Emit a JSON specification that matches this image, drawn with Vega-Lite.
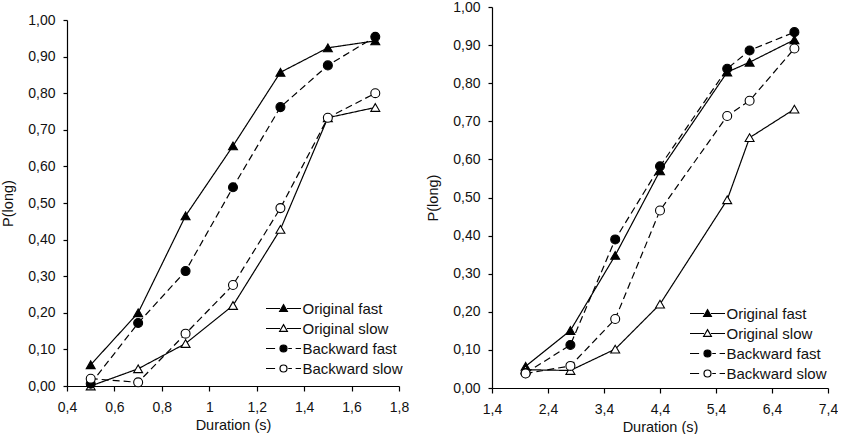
{
  "$schema": "https://vega.github.io/schema/vega-lite/v6.json",
  "description": "P(long) against stimulus duration for original and backward, fast and slow conditions, two experiments.",
  "padding": {"left": 0, "top": 0, "right": 0, "bottom": 0},
  "background": "white",
  "spacing": 16,
  "datasets": {
    "exp1": [
      {"duration": 0.5, "p": 0.058, "condition": "Original fast"},
      {"duration": 0.7, "p": 0.200, "condition": "Original fast"},
      {"duration": 0.9, "p": 0.465, "condition": "Original fast"},
      {"duration": 1.1, "p": 0.656, "condition": "Original fast"},
      {"duration": 1.3, "p": 0.857, "condition": "Original fast"},
      {"duration": 1.5, "p": 0.924, "condition": "Original fast"},
      {"duration": 1.7, "p": 0.943, "condition": "Original fast"},
      {"duration": 0.5, "p": 0.000, "condition": "Original slow"},
      {"duration": 0.7, "p": 0.047, "condition": "Original slow"},
      {"duration": 0.9, "p": 0.116, "condition": "Original slow"},
      {"duration": 1.1, "p": 0.220, "condition": "Original slow"},
      {"duration": 1.3, "p": 0.428, "condition": "Original slow"},
      {"duration": 1.5, "p": 0.733, "condition": "Original slow"},
      {"duration": 1.7, "p": 0.761, "condition": "Original slow"},
      {"duration": 0.5, "p": 0.006, "condition": "Backward fast"},
      {"duration": 0.7, "p": 0.172, "condition": "Backward fast"},
      {"duration": 0.9, "p": 0.314, "condition": "Backward fast"},
      {"duration": 1.1, "p": 0.543, "condition": "Backward fast"},
      {"duration": 1.3, "p": 0.762, "condition": "Backward fast"},
      {"duration": 1.5, "p": 0.876, "condition": "Backward fast"},
      {"duration": 1.7, "p": 0.954, "condition": "Backward fast"},
      {"duration": 0.5, "p": 0.020, "condition": "Backward slow"},
      {"duration": 0.7, "p": 0.010, "condition": "Backward slow"},
      {"duration": 0.9, "p": 0.143, "condition": "Backward slow"},
      {"duration": 1.1, "p": 0.276, "condition": "Backward slow"},
      {"duration": 1.3, "p": 0.486, "condition": "Backward slow"},
      {"duration": 1.5, "p": 0.733, "condition": "Backward slow"},
      {"duration": 1.7, "p": 0.800, "condition": "Backward slow"}
    ],
    "exp2": [
      {"duration": 2.0, "p": 0.057, "condition": "Original fast"},
      {"duration": 2.8, "p": 0.151, "condition": "Original fast"},
      {"duration": 3.6, "p": 0.348, "condition": "Original fast"},
      {"duration": 4.4, "p": 0.570, "condition": "Original fast"},
      {"duration": 5.6, "p": 0.829, "condition": "Original fast"},
      {"duration": 6.0, "p": 0.855, "condition": "Original fast"},
      {"duration": 6.8, "p": 0.914, "condition": "Original fast"},
      {"duration": 2.0, "p": 0.048, "condition": "Original slow"},
      {"duration": 2.8, "p": 0.046, "condition": "Original slow"},
      {"duration": 3.6, "p": 0.102, "condition": "Original slow"},
      {"duration": 4.4, "p": 0.220, "condition": "Original slow"},
      {"duration": 5.6, "p": 0.494, "condition": "Original slow"},
      {"duration": 6.0, "p": 0.657, "condition": "Original slow"},
      {"duration": 6.8, "p": 0.732, "condition": "Original slow"},
      {"duration": 2.0, "p": 0.039, "condition": "Backward fast"},
      {"duration": 2.8, "p": 0.113, "condition": "Backward fast"},
      {"duration": 3.6, "p": 0.390, "condition": "Backward fast"},
      {"duration": 4.4, "p": 0.582, "condition": "Backward fast"},
      {"duration": 5.6, "p": 0.838, "condition": "Backward fast"},
      {"duration": 6.0, "p": 0.886, "condition": "Backward fast"},
      {"duration": 6.8, "p": 0.934, "condition": "Backward fast"},
      {"duration": 2.0, "p": 0.038, "condition": "Backward slow"},
      {"duration": 2.8, "p": 0.058, "condition": "Backward slow"},
      {"duration": 3.6, "p": 0.181, "condition": "Backward slow"},
      {"duration": 4.4, "p": 0.466, "condition": "Backward slow"},
      {"duration": 5.6, "p": 0.714, "condition": "Backward slow"},
      {"duration": 6.0, "p": 0.754, "condition": "Backward slow"},
      {"duration": 6.8, "p": 0.891, "condition": "Backward slow"}
    ]
  },
  "hconcat": [
    {
      "width": 332,
      "height": 379,
      "data": {"name": "exp1"},
      "encoding": {
        "x": {
          "field": "duration", "type": "quantitative", "title": "Duration (s)",
          "scale": {"domain": [0.4, 1.8], "nice": false, "zero": false},
          "axis": {
            "values": [0.4, 0.6, 0.8, 1.0, 1.2, 1.4, 1.6, 1.8],
            "labelExpr": "replace(format(datum.value, '.1~f'), '.', ',')"
          }
        },
        "y": {
          "field": "p", "type": "quantitative", "title": "P(long)",
          "scale": {"domain": [0, 1], "nice": false, "range": [379, 13]},
          "axis": {
            "values": [0, 0.1, 0.2, 0.3, 0.4, 0.5, 0.6, 0.7, 0.8, 0.9, 1.0],
            "labelExpr": "replace(format(datum.value, '.2f'), '.', ',')"
          }
        }
      },
      "layer": [
        {
          "mark": {"type": "line", "stroke": "black", "strokeWidth": 1.2},
          "encoding": {
            "detail": {"field": "condition"},
            "strokeDash": {
              "field": "condition", "legend": null,
              "scale": {"domain": ["Original fast", "Original slow", "Backward fast", "Backward slow"], "range": [[1, 0], [1, 0], [7, 4], [7, 4]]}
            }
          }
        },
        {
          "mark": {"type": "point", "filled": true, "stroke": "black", "strokeWidth": 1.1, "size": 80, "opacity": 1},
          "encoding": {
            "shape": {
              "field": "condition", "legend": null,
              "scale": {"domain": ["Original fast", "Original slow", "Backward fast", "Backward slow"], "range": ["triangle-up", "triangle-up", "circle", "circle"]}
            },
            "fill": {
              "field": "condition", "legend": null,
              "scale": {"domain": ["Original fast", "Original slow", "Backward fast", "Backward slow"], "range": ["black", "white", "black", "white"]}
            }
          }
        },
        {
          "transform": [{"filter": "false"}],
          "mark": {"type": "point", "filled": true, "stroke": "black", "strokeWidth": 1.2, "opacity": 1},
          "encoding": {
            "shape": {
              "field": "condition",
              "scale": {
                "domain": ["Original fast", "Original slow", "Backward fast", "Backward slow"],
                "range": [
                  "M-3.5,0L-0.7,0M0.7,0L3.5,0M0,-0.77L0.77,0.56L-0.77,0.56Z",
                  "M-3.5,0L-0.7,0M0.7,0L3.5,0M0,-0.77L0.77,0.56L-0.77,0.56Z",
                  "M-3.5,0L-1.68,0M0.95,0L1.68,0M2.42,0L3.5,0M-0.7,0A0.7,0.7,0,1,0,0.7,0A0.7,0.7,0,1,0,-0.7,0Z",
                  "M-3.5,0L-1.68,0M0.95,0L1.68,0M2.42,0L3.5,0M-0.7,0A0.7,0.7,0,1,0,0.7,0A0.7,0.7,0,1,0,-0.7,0Z"
                ]
              },
              "legend": {
                "title": null, "orient": "none", "legendX": 209, "legendY": 294,
                "encode": {"symbols": {"stroke": {"value": "black"}, "strokeWidth": {"value": 1.2}}}
              }
            },
            "fill": {
              "field": "condition",
              "scale": {"domain": ["Original fast", "Original slow", "Backward fast", "Backward slow"], "range": ["black", "white", "black", "white"]},
              "legend": {
                "title": null, "orient": "none", "legendX": 209, "legendY": 294,
                "encode": {"symbols": {"stroke": {"value": "black"}, "strokeWidth": {"value": 1.2}}}
              }
            }
          }
        }
      ],
      "resolve": {"scale": {"shape": "independent", "fill": "independent"}}
    },
    {
      "width": 336,
      "height": 381,
      "data": {"name": "exp2"},
      "encoding": {
        "x": {
          "field": "duration", "type": "quantitative", "title": "Duration (s)",
          "scale": {"domain": [1.4, 7.4], "nice": false, "zero": false},
          "axis": {
            "values": [1.4, 2.4, 3.4, 4.4, 5.4, 6.4, 7.4],
            "labelExpr": "replace(format(datum.value, '.1f'), '.', ',')"
          }
        },
        "y": {
          "field": "p", "type": "quantitative", "title": "P(long)",
          "scale": {"domain": [0, 1], "nice": false},
          "axis": {
            "values": [0, 0.1, 0.2, 0.3, 0.4, 0.5, 0.6, 0.7, 0.8, 0.9, 1.0],
            "labelExpr": "replace(format(datum.value, '.2f'), '.', ',')"
          }
        }
      },
      "layer": [
        {
          "mark": {"type": "line", "stroke": "black", "strokeWidth": 1.2},
          "encoding": {
            "detail": {"field": "condition"},
            "strokeDash": {
              "field": "condition", "legend": null,
              "scale": {"domain": ["Original fast", "Original slow", "Backward fast", "Backward slow"], "range": [[1, 0], [1, 0], [7, 4], [7, 4]]}
            }
          }
        },
        {
          "mark": {"type": "point", "filled": true, "stroke": "black", "strokeWidth": 1.1, "size": 80, "opacity": 1},
          "encoding": {
            "shape": {
              "field": "condition", "legend": null,
              "scale": {"domain": ["Original fast", "Original slow", "Backward fast", "Backward slow"], "range": ["triangle-up", "triangle-up", "circle", "circle"]}
            },
            "fill": {
              "field": "condition", "legend": null,
              "scale": {"domain": ["Original fast", "Original slow", "Backward fast", "Backward slow"], "range": ["black", "white", "black", "white"]}
            }
          }
        },
        {
          "transform": [{"filter": "false"}],
          "mark": {"type": "point", "filled": true, "stroke": "black", "strokeWidth": 1.2, "opacity": 1},
          "encoding": {
            "shape": {
              "field": "condition",
              "scale": {
                "domain": ["Original fast", "Original slow", "Backward fast", "Backward slow"],
                "range": [
                  "M-3.5,0L-0.7,0M0.7,0L3.5,0M0,-0.77L0.77,0.56L-0.77,0.56Z",
                  "M-3.5,0L-0.7,0M0.7,0L3.5,0M0,-0.77L0.77,0.56L-0.77,0.56Z",
                  "M-3.5,0L-1.68,0M0.95,0L1.68,0M2.42,0L3.5,0M-0.7,0A0.7,0.7,0,1,0,0.7,0A0.7,0.7,0,1,0,-0.7,0Z",
                  "M-3.5,0L-1.68,0M0.95,0L1.68,0M2.42,0L3.5,0M-0.7,0A0.7,0.7,0,1,0,0.7,0A0.7,0.7,0,1,0,-0.7,0Z"
                ]
              },
              "legend": {
                "title": null, "orient": "none", "legendX": 208, "legendY": 299,
                "encode": {"symbols": {"stroke": {"value": "black"}, "strokeWidth": {"value": 1.2}}}
              }
            },
            "fill": {
              "field": "condition",
              "scale": {"domain": ["Original fast", "Original slow", "Backward fast", "Backward slow"], "range": ["black", "white", "black", "white"]},
              "legend": {
                "title": null, "orient": "none", "legendX": 208, "legendY": 299,
                "encode": {"symbols": {"stroke": {"value": "black"}, "strokeWidth": {"value": 1.2}}}
              }
            }
          }
        }
      ],
      "resolve": {"scale": {"shape": "independent", "fill": "independent"}}
    }
  ],
  "resolve": {"scale": {"shape": "independent", "fill": "independent", "strokeDash": "independent"}, "legend": {"shape": "independent", "fill": "independent"}},
  "config": {
    "font": "Liberation Sans",
    "view": {"stroke": null},
    "axis": {
      "grid": false,
      "labelFlush": false,
      "domainColor": "black",
      "domainWidth": 1.2,
      "tickColor": "black",
      "tickWidth": 1.2,
      "tickSize": 5,
      "labelColor": "#111",
      "labelFontSize": 14,
      "labelPadding": 8,
      "titleColor": "#111",
      "titleFontSize": 14.5,
      "titleFontWeight": "normal"
    },
    "axisX": {"labelPadding": 9, "titlePadding": 4},
    "axisY": {"tickSize": 4, "labelPadding": 8, "titlePadding": 12},
    "legend": {
      "symbolSize": 100,
      "symbolStrokeWidth": 1.2,
      "labelFontSize": 15,
      "labelColor": "#111",
      "labelOffset": 11.5,
      "rowPadding": 4,
      "padding": 0
    }
  }
}
